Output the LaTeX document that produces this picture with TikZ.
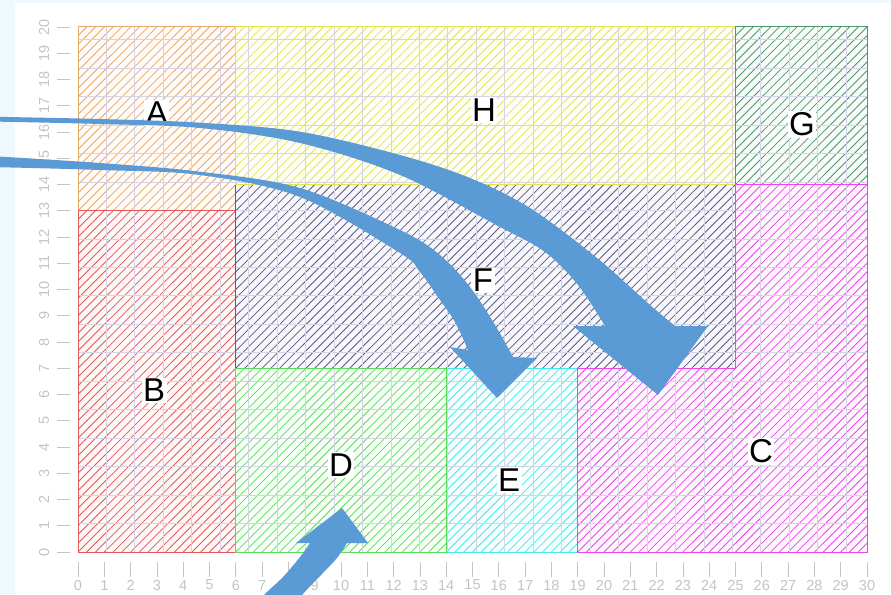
\documentclass[tikz,border=0pt]{standalone}
\usepackage{fontspec}
\setmainfont{Liberation Sans}
\definecolor{bgblue}{HTML}{EEF8FD}
\definecolor{arrowblue}{HTML}{5B9BD5}
\definecolor{cA}{HTML}{E8A868}
\definecolor{cB}{HTML}{E05A5A}
\definecolor{cC}{HTML}{E848E8}
\definecolor{cD}{HTML}{5ADC5A}
\definecolor{cE}{HTML}{48E8E8}
\definecolor{cF}{HTML}{5A5A8C}
\definecolor{cG}{HTML}{4A9A6A}
\definecolor{cH}{HTML}{E4E450}
\definecolor{gridc}{HTML}{D6D4E4}
\definecolor{axisc}{HTML}{C4C4C4}
\newcommand\myhatch[2]{%
  \begin{scope}
    \clip #2;
    \fill[#1!4] (-1,-1) rectangle (31,21);
    \foreach \k in {-60,...,90} \draw[#1, line width=0.8pt] (\k/3,0) -- ++(20,20);
  \end{scope}}
\tikzset{
  regionlabel/.style={fill=white, inner sep=1.5pt, text=black, font=\fontsize{33}{33}\selectfont},
  axislabel/.style={text=axisc, inner sep=0pt, font=\fontsize{14.5}{14.5}\selectfont},
  tickline/.style={axisc, line width=0.8pt},
  border/.style={line width=1pt},
  bigarrow/.style={fill=arrowblue}
}
\begin{document}
\begin{tikzpicture}[x=1pt,y=-1pt]
\useasboundingbox (0,0) rectangle (891,594);
\fill[bgblue] (0,0) rectangle (891,594);
\fill[white] (15,3) rectangle (891,594);
\begin{scope}[shift={(78,552)}, x={(26.3pt,0pt)}, y={(0pt,26.25pt)}]
  % hatched regions
  \myhatch{cA}{(0,13) rectangle (6,20)}
  \myhatch{cB}{(0,0) rectangle (6,13)}
  \myhatch{cF}{(6,7) rectangle (25,14)}
  \myhatch{cH}{(6,14) rectangle (25,20)}
  \myhatch{cG}{(25,14) rectangle (30,20)}
  \myhatch{cE}{(14,0) rectangle (19,7)}
  \myhatch{cD}{(6,0) rectangle (14,7)}
  \myhatch{cC}{(19,0) -- (30,0) -- (30,14) -- (25,14) -- (25,7) -- (19,7) -- cycle}
  % grid
  \draw[gridc, line width=0.9pt] (0,0) grid (30,20);
  % borders
  \draw[border, cA] (0,13) rectangle (6,20);
  \draw[border, cB] (0,0) rectangle (6,13);
  \draw[border, cF] (6,7) rectangle (25,14);
  \draw[border, cH] (6,14) rectangle (25,20);
  \draw[border, cG] (25,14) rectangle (30,20);
  \draw[border, cE] (14,0) rectangle (19,7);
  \draw[border, cD] (6,0) rectangle (14,7);
  \draw[border, cC] (19,0) -- (30,0) -- (30,14) -- (25,14) -- (25,7) -- (19,7) -- cycle;
  % axes
  \foreach \i in {0,...,20} {
    \draw[tickline] (-0.8,\i) -- (-0.3,\i);
    \node[axislabel, rotate=90] (ly\i) at (-1.29,\i) {\i};
  }
  \foreach \i in {0,...,30} {
    \draw[tickline] (\i,-0.38) -- (\i,-0.95);
    \node[axislabel] (lx\i) at (\i,-1.26) {\i};
  }
  % labels
  \node[regionlabel] (labA) at (3.0,16.72) {A};
  \node[regionlabel] (labH) at (15.44,16.84) {H};
  \node[regionlabel] (labG) at (27.53,16.29) {G};
  \node[regionlabel] (labF) at (15.4,10.34) {F};
  \node[regionlabel] (labB) at (2.89,6.15) {B};
  \node[regionlabel] (labC) at (25.97,3.83) {C};
  \node[regionlabel] (labD) at (10.0,3.31) {D};
  \node[regionlabel] (labE) at (16.39,2.74) {E};
\end{scope}
% arrows (pixel coordinates)
\begin{scope}
\clip (0,0) rectangle (891,594);
\fill[bigarrow] plot[smooth, tension=0.55] coordinates {(-10,116.7) (100,119) (200,122.7) (300,131.7) (400,155) (470,178) (530,208) (597,258) (650,305) (675,326)}
  -- (708,326) -- (658,395) -- (573,326)
  -- plot[smooth, tension=0.55] coordinates {(605,326) (578,285) (545,252) (500,227) (400,175) (300,143) (200,128) (100,124) (-10,121.5)} -- cycle;
\fill[bigarrow] plot[smooth, tension=0.55] coordinates {(-10,156) (100,163) (200,171.7) (300,188) (400,230) (440,255) (470,287) (495,325) (513,357)}
  -- (537,358) -- (497,398) -- (450,347)
  -- plot[smooth, tension=0.55] coordinates {(468,350) (455,322) (440,300) (420,272) (400,253) (300,197) (200,175) (100,170) (-10,167)} -- cycle;
\fill[bigarrow] plot[smooth, tension=0.55] coordinates {(252,610) (265,594) (283,577) (300,557) (310,543)}
  -- (296,543) -- (342,508) -- (368,543)
  -- plot[smooth, tension=0.55] coordinates {(347,543) (337,558) (322,574) (303,594) (292,610)} -- cycle;
\end{scope}
\end{tikzpicture}
\end{document}
